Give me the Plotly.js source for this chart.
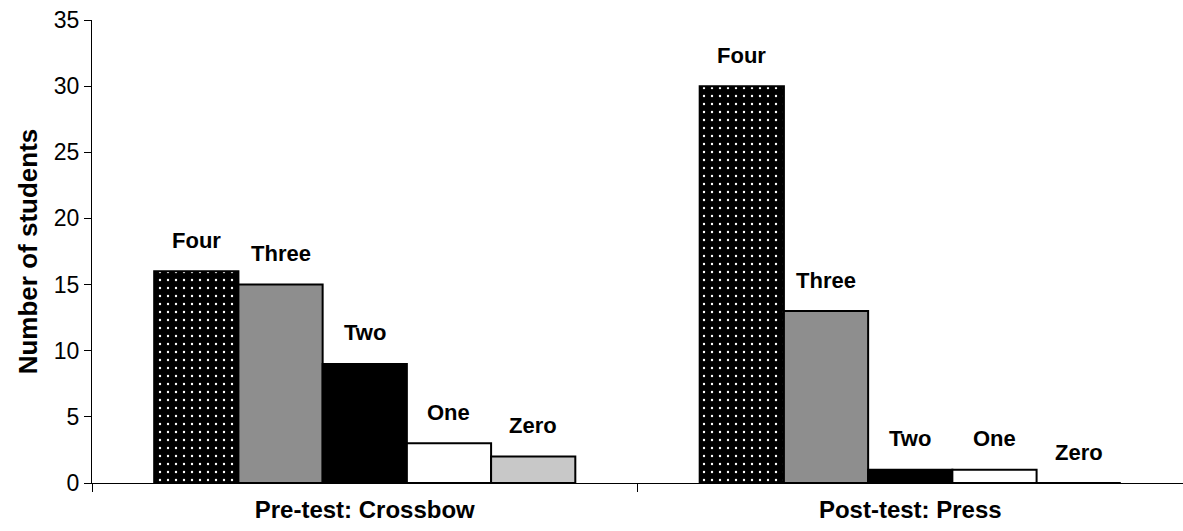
<!DOCTYPE html>
<html>
<head>
<meta charset="utf-8">
<script src="https://cdn.plot.ly/plotly-3.0.1.min.js"></script>
<style>html,body{margin:0;padding:0;background:#fff;}#chart{width:1183px;height:531px;}</style>
</head>
<body>
<div id="chart"></div>
<script>
const categories = ["Pre-test: Crossbow", "Post-test: Press"];
const seriesNames = ["Four", "Three", "Two", "One", "Zero"];
const four  = [16, 30];
const three = [15, 13];
const two   = [9, 1];
const one   = [3, 1];
const zero  = [2, 0];
const yTicks = [0, 5, 10, 15, 20, 25, 30, 35];

const FONT = "'Liberation Sans', Arial, sans-serif";
const seriesValues = [four, three, two, one, zero];
const fills = ["#000000", "#8e8e8e", "#000000", "#ffffff", "#c8c8c8"];
const bargap = 0.228;

const traces = seriesValues.map((vals, i) => {
  const marker = { color: fills[i], line: { color: "#000000", width: 2 } };
  if (i === 0) {
    marker.pattern = { shape: ".", bgcolor: "#000000", fgcolor: "#ffffff", size: 8, solidity: 0.07, fillmode: "replace" };
  }
  return { type: "bar", name: seriesNames[i], x: categories, y: vals, marker: marker, hoverinfo: "skip" };
});

const n = seriesValues.length;
const bw = (1 - bargap) / n;
const annotations = [];
seriesValues.forEach((vals, i) => {
  vals.forEach((v, j) => {
    annotations.push({
      x: j + (i - (n - 1) / 2) * bw, y: v, xref: "x", yref: "y",
      text: "<b>" + seriesNames[i] + "</b>", showarrow: false,
      yanchor: "middle", yshift: 31,
      font: { family: FONT, size: 22, color: "#000" }
    });
  });
});

const layout = {
  width: 1183, height: 531,
  margin: { l: 92, r: 0, t: 20, b: 48 },
  paper_bgcolor: "#fff", plot_bgcolor: "#fff",
  barmode: "group", bargap: bargap, bargroupgap: 0,
  showlegend: false,
  font: { family: FONT, color: "#000" },
  xaxis: {
    type: "category",
    range: [-0.5, 1.5],
    showline: true, linecolor: "#000", linewidth: 1,
    ticks: "outside", tickson: "boundaries", ticklen: 8, tickcolor: "#000",
    ticklabelstandoff: 5,
    tickfont: { size: 24, color: "#000", family: FONT },
    ticktext: categories.map(c => "<b>" + c + "</b>"), tickvals: categories, tickmode: "array",
    showgrid: false, zeroline: false
  },
  yaxis: {
    range: [0, 35], tickvals: yTicks, tickmode: "array",
    showline: true, linecolor: "#000", linewidth: 1,
    ticks: "outside", ticklen: 7, tickcolor: "#000",
    tickfont: { size: 23, color: "#000", family: FONT },
    showgrid: false, zeroline: false,
    title: { text: "<b>Number of students</b>", font: { size: 26, color: "#000", family: FONT }, standoff: 8 }
  },
  annotations: annotations
};

Plotly.newPlot("chart", traces, layout, { displayModeBar: false, staticPlot: true });
</script>
</body>
</html>
